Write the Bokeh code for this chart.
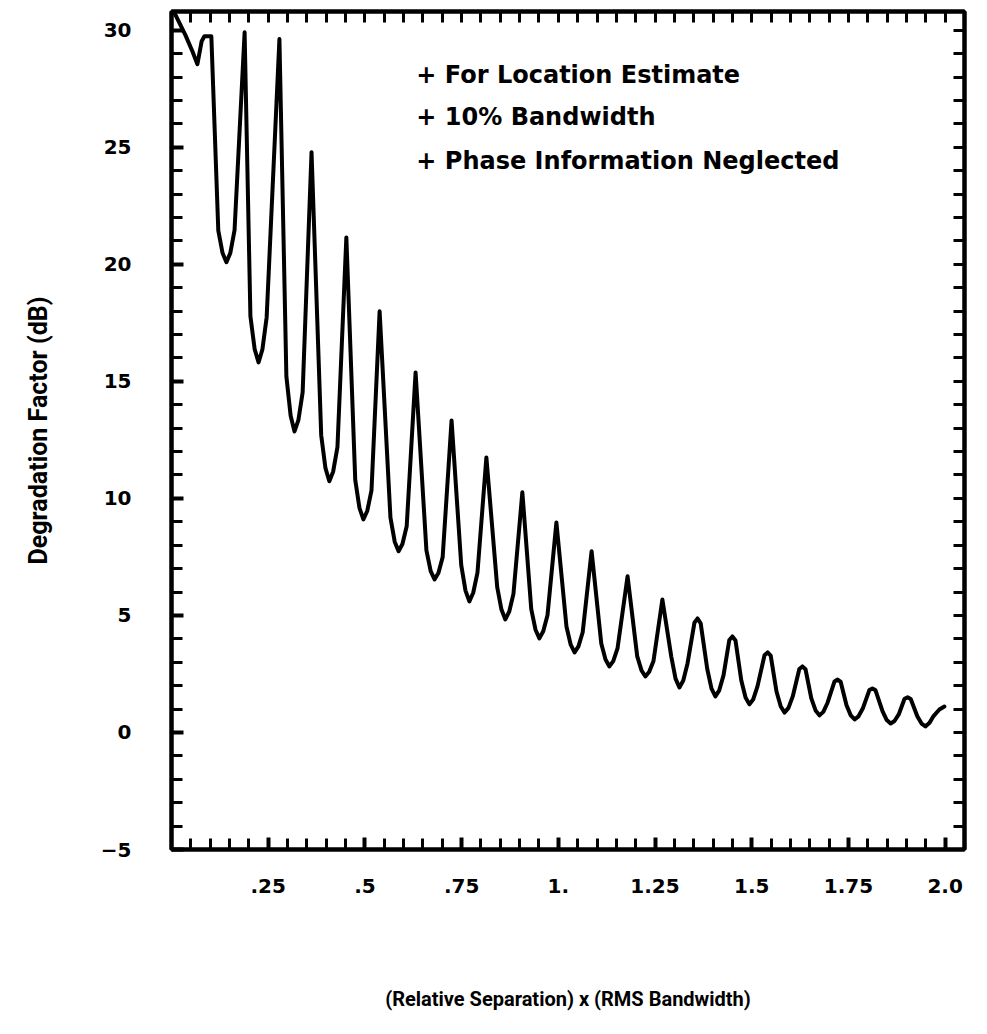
from bokeh.plotting import figure
from bokeh.models import FixedTicker, LinearAxis, Label
from bokeh.embed import file_html
from bokeh.resources import INLINE

# (Relative Separation) x (RMS Bandwidth)
sep = [0.000, 0.036, 0.054, 0.067, 0.078, 0.085, 0.103,
       0.121, 0.132, 0.142, 0.152, 0.163, 0.189,
       0.204, 0.215, 0.225, 0.235, 0.246, 0.279,
       0.297, 0.308, 0.318, 0.328, 0.339, 0.362,
       0.387, 0.398, 0.408, 0.418, 0.429, 0.452,
       0.475, 0.486, 0.496, 0.506, 0.517, 0.538,
       0.566, 0.577, 0.587, 0.597, 0.608, 0.631,
       0.659, 0.670, 0.680, 0.690, 0.701, 0.724,
       0.749, 0.760, 0.770, 0.780, 0.791, 0.814,
       0.842, 0.853, 0.863, 0.873, 0.884, 0.907,
       0.930, 0.941, 0.951, 0.961, 0.972, 0.995,
       1.021, 1.032, 1.042, 1.052, 1.063, 1.086,
       1.111, 1.122, 1.132, 1.142, 1.153, 1.179,
       1.204, 1.215, 1.225, 1.235, 1.246, 1.269,
       1.292, 1.303, 1.313, 1.323, 1.334, 1.352, 1.360, 1.368,
       1.385, 1.396, 1.406, 1.416, 1.427, 1.442, 1.450, 1.458,
       1.473, 1.484, 1.494, 1.504, 1.515, 1.533, 1.541, 1.549,
       1.564, 1.575, 1.585, 1.595, 1.606, 1.623, 1.631, 1.639,
       1.654, 1.665, 1.675, 1.685, 1.696, 1.714, 1.722, 1.730,
       1.745, 1.756, 1.766, 1.776, 1.787, 1.804, 1.812, 1.820,
       1.838, 1.849, 1.859, 1.869, 1.880, 1.895, 1.903, 1.911,
       1.928, 1.939, 1.949, 1.959, 1.970, 1.985, 1.998]
# Degradation Factor (dB)
deg = [31.0, 29.79, 29.10, 28.55, 29.53, 29.74, 29.74,
       21.44, 20.48, 20.09, 20.48, 21.46, 29.91,
       17.78, 16.37, 15.81, 16.36, 17.74, 29.62,
       15.21, 13.53, 12.86, 13.34, 14.53, 24.79,
       12.70, 11.29, 10.73, 11.15, 12.19, 21.15,
       10.79, 9.58, 9.10, 9.46, 10.34, 17.99,
       9.18, 8.15, 7.74, 8.05, 8.81, 15.38,
       7.78, 6.89, 6.54, 6.81, 7.49, 13.33,
       7.15, 6.06, 5.60, 5.97, 6.83, 11.75,
       6.21, 5.25, 4.83, 5.16, 5.92, 10.26,
       5.27, 4.39, 4.02, 4.32, 5.01, 8.97,
       4.53, 3.75, 3.42, 3.68, 4.28, 7.74,
       3.80, 3.12, 2.82, 3.05, 3.59, 6.67,
       3.25, 2.65, 2.39, 2.59, 3.05, 5.68,
       3.24, 2.30, 1.92, 2.22, 2.95, 4.70, 4.87, 4.66,
       2.71, 1.87, 1.54, 1.80, 2.44, 3.95, 4.10, 3.93,
       2.22, 1.49, 1.20, 1.42, 1.98, 3.30, 3.42, 3.28,
       1.75, 1.11, 0.85, 1.05, 1.54, 2.71, 2.82, 2.70,
       1.46, 0.94, 0.73, 0.88, 1.27, 2.18, 2.26, 2.16,
       1.16, 0.73, 0.56, 0.69, 1.02, 1.81, 1.88, 1.80,
       0.91, 0.53, 0.38, 0.49, 0.77, 1.44, 1.50, 1.43,
       0.69, 0.38, 0.26, 0.40, 0.70, 0.98, 1.11]

x_tick_values = [0.25, 0.5, 0.75, 1.0, 1.25, 1.5, 1.75, 2.0]
x_tick_labels = [".25", ".5", ".75", "1.", "1.25", "1.5", "1.75", "2.0"]
y_tick_values = [-5, 0, 5, 10, 15, 20, 25, 30]
notes = ["+ For Location Estimate",
         "+ 10% Bandwidth",
         "+ Phase Information Neglected"]
note_y = [28.1, 26.3, 24.4]

FONT = "DejaVu Sans"
LABEL_FONT = "Roboto"

p = figure(width=982, height=1021, x_range=(0, 2.05), y_range=(-5, 30.8),
           output_backend="svg", toolbar_location=None,
           min_border_left=171, min_border_right=18,
           min_border_top=11, min_border_bottom=172,
           x_axis_label="(Relative Separation) x (RMS Bandwidth)",
           y_axis_label="Degradation Factor (dB)")
p.grid.visible = False
p.background_fill_color = "white"
p.border_fill_color = "white"
p.outline_line_color = "black"
p.outline_line_width = 4

x_minor = [round(0.05 * k, 2) for k in range(1, 41)]
y_minor = list(range(-5, 31))


def style(ax):
    ax.axis_line_color = "black"
    ax.axis_line_width = 4
    ax.major_tick_in = 12
    ax.major_tick_out = 0
    ax.minor_tick_in = 11
    ax.minor_tick_out = 0
    ax.major_tick_line_width = 4
    ax.minor_tick_line_width = 3
    ax.major_tick_line_color = "black"
    ax.minor_tick_line_color = "black"


xa = p.xaxis[0]
xa.ticker = FixedTicker(ticks=x_tick_values, minor_ticks=x_minor)
xa.major_label_overrides = {v: s for v, s in zip(x_tick_values, x_tick_labels)}
style(xa)
xa.major_label_text_font = FONT
xa.major_label_text_font_style = "bold"
xa.major_label_text_font_size = "20px"
xa.major_label_text_color = "black"
xa.major_label_standoff = 29
xa.axis_label_text_font = LABEL_FONT
xa.axis_label_text_font_style = "bold"
xa.axis_label_text_font_size = "20px"
xa.axis_label_text_color = "black"
xa.axis_label_standoff = 91

ya = p.yaxis[0]
ya.ticker = FixedTicker(ticks=y_tick_values, minor_ticks=y_minor)
style(ya)
ya.major_label_text_font = FONT
ya.major_label_text_font_style = "bold"
ya.major_label_text_font_size = "20px"
ya.major_label_text_color = "black"
ya.major_label_standoff = 40
ya.axis_label_text_font = LABEL_FONT
ya.axis_label_text_font_style = "bold"
ya.axis_label_text_font_size = "25px"
ya.axis_label_text_color = "black"
ya.axis_label_standoff = 45

# tick marks only (no labels) on top and right frame edges
top = LinearAxis(ticker=FixedTicker(ticks=[], minor_ticks=x_minor))
style(top)
p.add_layout(top, "above")
right = LinearAxis(ticker=FixedTicker(ticks=[], minor_ticks=y_minor))
style(right)
p.add_layout(right, "right")

p.line(sep, deg, line_color="black", line_width=4, line_join="round", line_cap="round")

for t, yy in zip(notes, note_y):
    p.add_layout(Label(x=0.633, y=yy, text=t, text_font=FONT, text_font_style="bold",
                       text_font_size="24px", text_color="black", text_baseline="middle"))

open("out.html", "w").write(file_html(p, INLINE))
